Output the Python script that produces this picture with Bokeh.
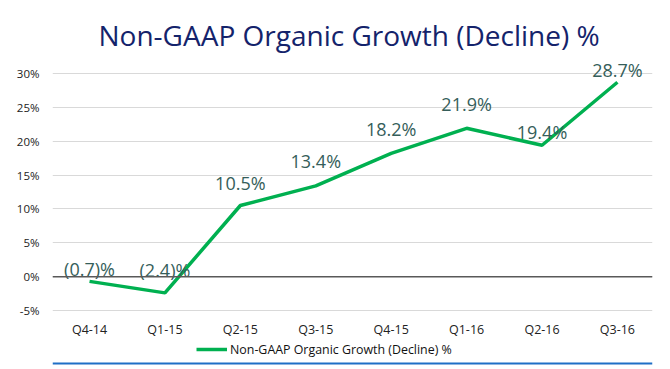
from bokeh.plotting import figure
from bokeh.layouts import column
from bokeh.models import (ColumnDataSource, Range1d, FixedTicker, Span, Title,
                          Legend, LegendItem)
from bokeh.core.properties import value
from bokeh.embed import file_html
from bokeh.resources import INLINE

# ---- data ----
quarters = ["Q4-14", "Q1-15", "Q2-15", "Q3-15", "Q4-15", "Q1-16", "Q2-16", "Q3-16"]
growth = [-0.7, -2.4, 10.5, 13.4, 18.2, 21.9, 19.4, 28.7]
label_texts = ["(0.7)%", "(2.4)%", "10.5%", "13.4%", "18.2%", "21.9%", "19.4%", "28.7%"]
y_ticks = [-5, 0, 5, 10, 15, 20, 25, 30]
series_name = "Non-GAAP Organic Growth (Decline) %"
title_text = "Non-GAAP Organic Growth (Decline) %"

# styling: pixel lift of each data label above its point
label_lift = [12, 23, 23, 25, 24, 24, 13, 12]

idx = list(range(len(quarters)))
src = ColumnDataSource(dict(x=idx, y=growth, t=label_texts,
                            dy=[-d for d in label_lift]))

FONT = "Open Sans"
LINE_COLOR = "#00b050"

# ---------------- main chart ----------------
p = figure(width=670, height=340, output_backend="svg", toolbar_location=None,
           x_range=Range1d(-0.491, 7.465), y_range=Range1d(-5.147, 32.5),
           min_border_left=52, min_border_right=2, min_border_top=56,
           min_border_bottom=28)
p.outline_line_color = None
p.background_fill_color = "white"
p.border_fill_color = "white"

p.add_layout(Title(text=title_text, align="left", offset=46, standoff=5,
                   text_font=FONT, text_font_size="28px",
                   text_font_style="normal", text_color="#14236b"), "above")

p.xgrid.grid_line_color = None
p.ygrid.ticker = FixedTicker(ticks=y_ticks)
p.ygrid.grid_line_color = "#d9d9d9"
p.ygrid.grid_line_width = 1

p.yaxis.ticker = FixedTicker(ticks=y_ticks)
p.yaxis.major_label_overrides = {t: f"{t}%" for t in y_ticks}
p.yaxis.axis_line_color = None
p.yaxis.major_tick_line_color = None
p.yaxis.minor_tick_line_color = None
p.yaxis.major_label_standoff = 7
p.yaxis.major_label_text_font = FONT
p.yaxis.major_label_text_font_size = "11.5px"
p.yaxis.major_label_text_color = "#222222"

p.xaxis.ticker = FixedTicker(ticks=idx)
p.xaxis.major_label_overrides = {i: q for i, q in zip(idx, quarters)}
p.xaxis.axis_line_color = None
p.xaxis.major_tick_line_color = None
p.xaxis.minor_tick_line_color = None
p.xaxis.major_label_standoff = 3
p.xaxis.major_label_text_font = FONT
p.xaxis.major_label_text_font_size = "12.5px"
p.xaxis.major_label_text_color = "#222222"

p.add_layout(Span(location=0, dimension="width", line_color="#595959", line_width=1.5))

r = p.line("x", "y", source=src, line_color=LINE_COLOR, line_width=3.5)

p.text("x", "y", text="t", source=src, y_offset="dy", text_align="center",
       text_baseline="alphabetic", text_font=value(FONT), text_font_size="18px",
       text_color="#355e5a")

# ---------------- legend strip ----------------
q = figure(width=670, height=29, output_backend="svg", toolbar_location=None,
           x_axis_type=None, y_axis_type=None,
           x_range=Range1d(0, 612), y_range=Range1d(0, 29),
           min_border_left=40, min_border_right=18, min_border_top=0,
           min_border_bottom=0)
q.outline_line_color = None
q.background_fill_color = "white"
q.border_fill_color = "white"
q.grid.visible = False

# legend key: same style as the series, drawn outside the strip's visible range
key = q.line(x=[0, 1], y=[-50, -50], line_color=LINE_COLOR, line_width=3.5)
legend = Legend(items=[LegendItem(label=series_name, renderers=[key])],
                location=(144, 11), orientation="horizontal",
                padding=0, margin=0, spacing=0, glyph_width=31, glyph_height=18,
                label_height=18, label_standoff=3,
                label_text_font=FONT, label_text_font_size="12.4px",
                label_text_color="#111111",
                border_line_color=None, background_fill_alpha=0)
q.add_layout(legend, "center")

q.add_layout(Span(location=6, dimension="width", line_color="#1f6fc6", line_width=2))

open("out.html", "w").write(file_html(column(p, q, spacing=0), INLINE))
